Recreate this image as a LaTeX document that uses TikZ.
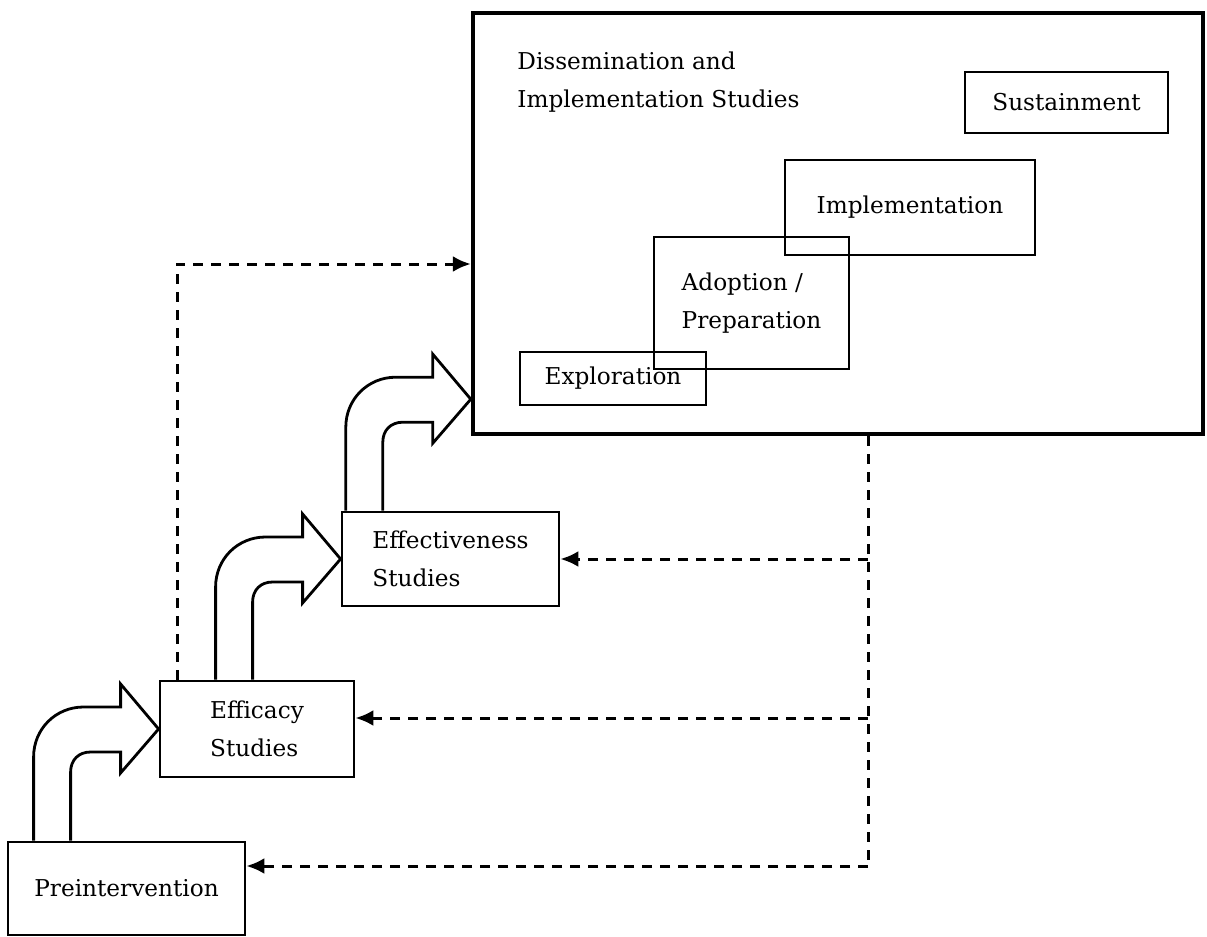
\documentclass[tikz,border=0pt]{standalone}
\usepackage{fontspec}
\setmainfont{DejaVu Serif}
\usetikzlibrary{arrows.meta, calc, positioning}

% gebogener Blockpfeil: #1 Quelle, #2 Spitze
\newcommand{\bendarrow}[2]{%
  \coordinate (ba-o) at ($(#2)+(-125,0)$);
  \coordinate (ba-i) at ($(#2)+(-88,0)$);
  \draw[blockarrow] (ba-o |- #1.north) -- ($(#2)+(-125,28)$)
    .. controls ($(#2)+(-125,0)$) and ($(#2)+(-103,-22)$) .. ($(#2)+(-75,-22)$)
    -- ($(#2)+(-38,-22)$) -- ($(#2)+(-38,-45)$) -- (#2) -- ($(#2)+(-38,44)$)
    -- ($(#2)+(-38,23)$) -- ($(#2)+(-68,23)$)
    .. controls ($(#2)+(-80,23)$) and ($(#2)+(-88,31)$) .. ($(#2)+(-88,43)$)
    -- (ba-i |- #1.north);
}

\begin{document}
\begin{tikzpicture}[x=0.5pt, y=-0.5pt,
		>={Latex[length=9pt,width=8pt]},   %Pfeilspitzen
		font=\fontsize{11.6}{19}\selectfont,
		phase/.style={draw, line width=1.4pt, inner sep=0pt, align=left},
		blockarrow/.style={draw, line width=1.4pt, fill=white, line join=miter},
		fbline/.style={line width=1.5pt, dash pattern=on 5pt off 4pt}]
		\useasboundingbox (0,0) rectangle (1207,937);
		% Stufen
		\node[phase, minimum width=118.5pt, minimum height=46.5pt] (pre) at (126.5,888.5) {Preintervention};
		\node[phase, minimum width=97pt, minimum height=48pt] (effic) at (257,729) {Efficacy\\Studies};
		\node[phase, minimum width=108.5pt, minimum height=47pt] (effect) at (450.5,559) {Effectiveness\\Studies};
		% grosser Kasten
		\node[phase, line width=2.2pt, minimum width=365pt, minimum height=210.5pt] (dis) at (838,223.5) {};
		\node[inner sep=0pt, align=left, anchor=north west] (distitle) at (517,51) {Dissemination and\\Implementation Studies};
		\node[phase, minimum width=101.5pt, minimum height=30.5pt] (sust) at (1066.5,102.5) {Sustainment};
		\node[phase, minimum width=125pt, minimum height=47.5pt] (impl) at (910,207.5) {Implementation};
		\node[phase, minimum width=97.5pt, minimum height=66pt] (adopt) at (751.5,303) {Adoption /\\Preparation};
		\node[phase, minimum width=93pt, minimum height=26.5pt] (expl) at (613,378.5) {Exploration};
		% Blockpfeile
		\coordinate (t3) at ($(dis.south west)+(0,-37)$);
		\bendarrow{pre}{effic.west}
		\bendarrow{effic}{effect.west}
		\bendarrow{effect}{t3}
		% Rueckkopplung
		\coordinate (fb) at (868,866);
		\draw[fbline] (dis.south -| fb) -- (fb);
		\foreach \n/\y in {effect/559, effic/718, pre/866} {
			\coordinate (fy) at (0,\y);
			\draw[fbline,->] (fb |- fy) -- (\n.east |- fy);
		}
		\coordinate (tl) at (177,264);
		\draw[fbline,->] (effic.north -| tl) -- (tl) -- (tl -| dis.west);
	\end{tikzpicture}
\end{document}
